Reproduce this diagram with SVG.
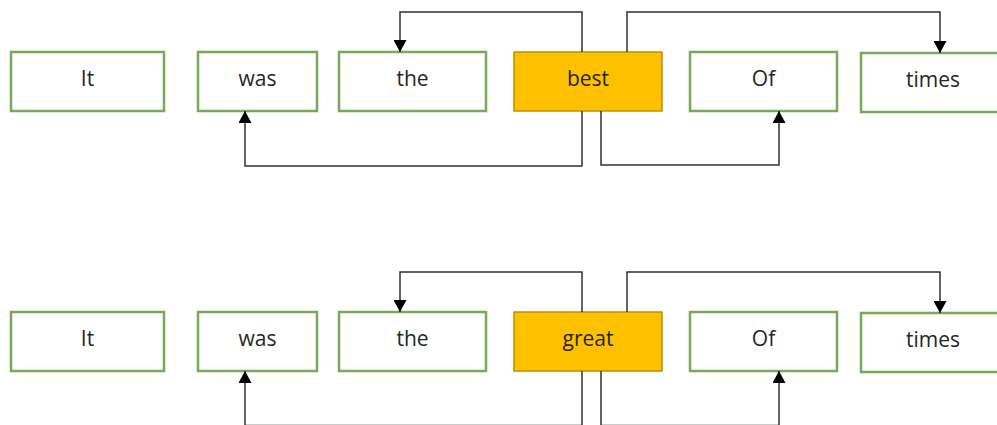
<svg xmlns="http://www.w3.org/2000/svg" width="997" height="425" viewBox="0 0 997 425">
  <style>
    .box { fill: #ffffff; stroke: #78a95a; stroke-width: 2.5; }
    .key { fill: #ffc000; stroke: #bf9000; stroke-width: 1.5; }
    .lbl { font-family: "Open Sans", "Liberation Sans", sans-serif; font-size: 21px; fill: #262626; text-anchor: middle; dominant-baseline: central; }
    .wire { fill: none; stroke: #303030; stroke-width: 1.5; }
  </style>
  <defs>
    <marker id="arrow" viewBox="0 0 12 13" refX="12" refY="6.5" markerWidth="12" markerHeight="13" markerUnits="userSpaceOnUse" orient="auto">
      <path d="M0,0 L12,6.5 L0,13 Z" fill="#000000"/>
    </marker>
  </defs>

  <rect width="997" height="425" fill="#ffffff"/>

  <!-- first sentence -->
  <g id="row1-it"><rect class="box" x="11" y="52" width="153" height="59"/><text class="lbl" x="87.5" y="78">It</text></g>
  <g id="row1-was"><rect class="box" x="198" y="52" width="119" height="59"/><text class="lbl" x="257.5" y="78">was</text></g>
  <g id="row1-the"><rect class="box" x="339" y="52" width="147" height="59"/><text class="lbl" x="412.5" y="78">the</text></g>
  <g id="row1-best"><rect class="key" x="514" y="52" width="148" height="59"/><text class="lbl" x="588" y="78">best</text></g>
  <g id="row1-of"><rect class="box" x="690" y="52" width="147" height="59"/><text class="lbl" x="763.5" y="78">Of</text></g>
  <g id="row1-times"><rect class="box" x="861" y="53" width="148" height="59"/><text class="lbl" x="933" y="79">times</text></g>

  <!-- second sentence -->
  <g id="row2-it"><rect class="box" x="11" y="312" width="153" height="59"/><text class="lbl" x="87.5" y="338">It</text></g>
  <g id="row2-was"><rect class="box" x="198" y="312" width="119" height="59"/><text class="lbl" x="257.5" y="338">was</text></g>
  <g id="row2-the"><rect class="box" x="339" y="312" width="147" height="59"/><text class="lbl" x="412.5" y="338">the</text></g>
  <g id="row2-great"><rect class="key" x="514" y="312" width="148" height="59"/><text class="lbl" x="588" y="338">great</text></g>
  <g id="row2-of"><rect class="box" x="690" y="312" width="147" height="59"/><text class="lbl" x="763.5" y="338">Of</text></g>
  <g id="row2-times"><rect class="box" x="861" y="313" width="148" height="59"/><text class="lbl" x="933" y="339">times</text></g>

  <g id="connectors">
    <!-- first sentence -->
    <path class="wire" d="M582,52 V12 H400 V52" marker-end="url(#arrow)"/>
    <path class="wire" d="M627,52 V12 H940 V53" marker-end="url(#arrow)"/>
    <path class="wire" d="M582,111 V166 H245 V111" marker-end="url(#arrow)"/>
    <path class="wire" d="M601,111 V165 H779 V111" marker-end="url(#arrow)"/>
    <!-- second sentence -->
    <path class="wire" d="M582,312 V272 H400 V312" marker-end="url(#arrow)"/>
    <path class="wire" d="M627,312 V272 H940 V313" marker-end="url(#arrow)"/>
    <path class="wire" d="M582,371 V425.5 H245 V371" marker-end="url(#arrow)"/>
    <path class="wire" d="M601,371 V425.5 H779 V371" marker-end="url(#arrow)"/>
  </g>
</svg>
